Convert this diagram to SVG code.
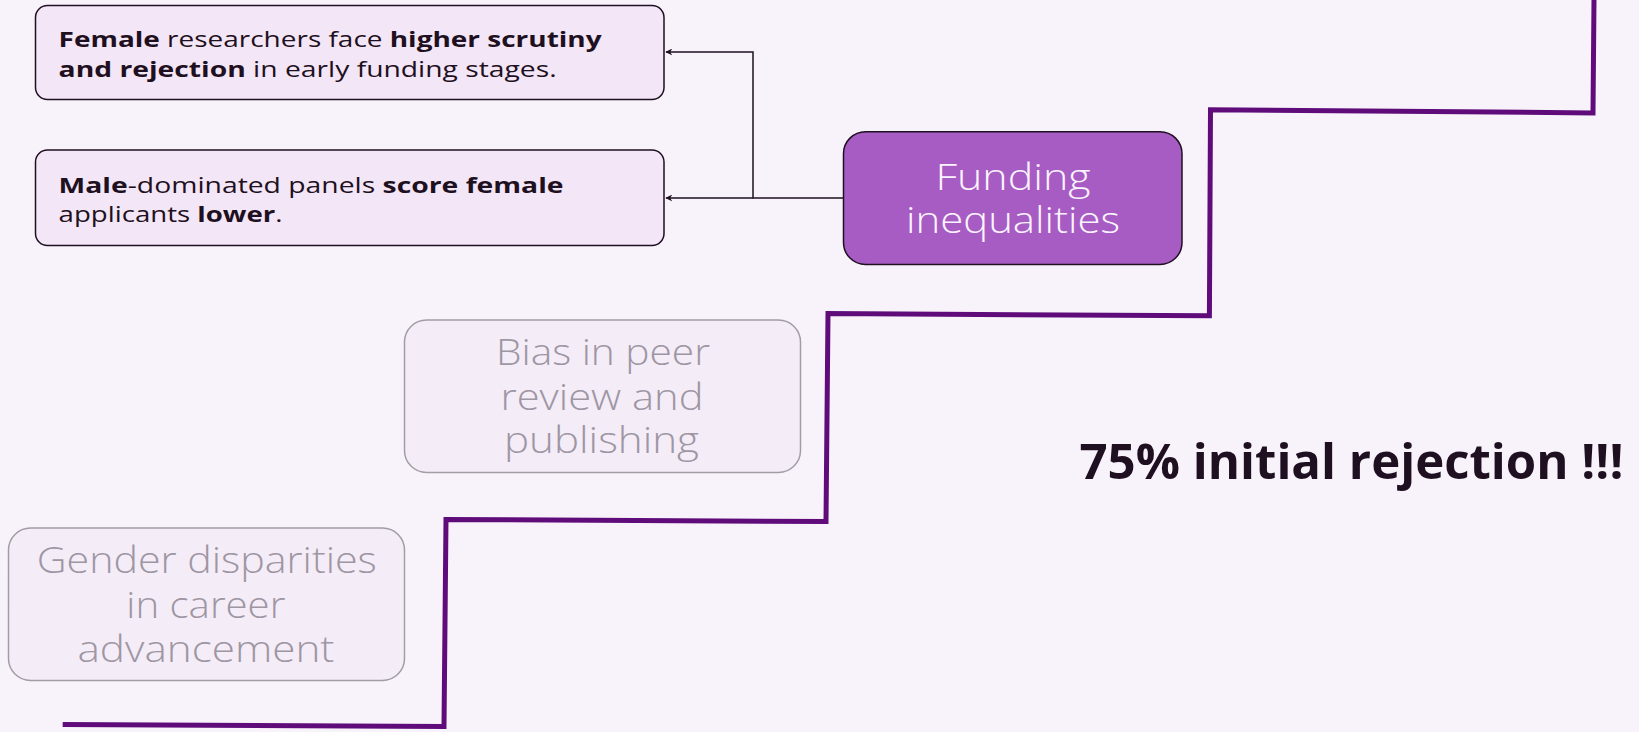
<svg xmlns="http://www.w3.org/2000/svg" width="1639" height="732" viewBox="0 0 1639 732">
<style>
.bg{fill:#f8f3fa}
.note{fill:#f3e6f6;stroke:#1e1020;stroke-width:1.5}
.ghost{fill:#f4ecf7;stroke:#a29ca6;stroke-width:1.5}
.main{fill:#a75cc4;stroke:#1e1020;stroke-width:1.5}
.nt{font-family:"Open Sans","Liberation Sans",sans-serif;font-size:22px;fill:#1e1020;font-weight:400}
.nt tspan.b{font-weight:700}
.gt{font-family:"Open Sans","Liberation Sans",sans-serif;font-size:36px;font-weight:300;fill:#9e96a3;text-anchor:middle}
.mt{font-family:"Open Sans","Liberation Sans",sans-serif;font-size:36px;font-weight:300;fill:#fbf4fd;text-anchor:middle}
.big{font-family:"Open Sans","Liberation Sans",sans-serif;font-size:49px;font-weight:700;fill:#1e1020}
.conn{fill:none;stroke:#1e1020;stroke-width:1.5}
.stair{fill:none;stroke:#5f0c7a;stroke-width:5}
</style>
<defs>
<marker id="arr" viewBox="0 0 10 10" refX="9" refY="5" markerWidth="7" markerHeight="7" markerUnits="userSpaceOnUse" orient="auto">
<path d="M0,0 L10,5 L0,10 L3,5 Z" fill="#1e1020"/>
</marker>
</defs>
<rect class="bg" x="0" y="0" width="1639" height="732"/>
<g id="stairs">
<polyline class="stair" points="62.7,724.4 444,726.5 446,519.5 826,521.6 828,313.6 1209.4,315.7 1210.5,109.8 1593,112.9 1594,0"/>
</g>
<g id="connectors">
<path class="conn" d="M843,198 L753,198 L753,52 L666,52" marker-end="url(#arr)"/>
<path class="conn" d="M753,198 L666,198" marker-end="url(#arr)"/>
</g>
<g id="note-female">
<rect class="note" x="35.5" y="5.5" width="628.5" height="94" rx="12"/>
<text class="nt" x="58.6" y="46.7" textLength="543" lengthAdjust="spacingAndGlyphs"><tspan class="b">Female</tspan> researchers face <tspan class="b">higher scrutiny</tspan></text>
<text class="nt" x="58.6" y="76.7" textLength="498" lengthAdjust="spacingAndGlyphs"><tspan class="b">and rejection</tspan> in early funding stages.</text>
</g>
<g id="note-male">
<rect class="note" x="35.5" y="150" width="628.5" height="95.5" rx="12"/>
<text class="nt" x="58.6" y="192.7" textLength="505" lengthAdjust="spacingAndGlyphs"><tspan class="b">Male</tspan>-dominated panels <tspan class="b">score female</tspan></text>
<text class="nt" x="58.6" y="221.7" textLength="224" lengthAdjust="spacingAndGlyphs">applicants <tspan class="b">lower</tspan>.</text>
</g>
<g id="funding">
<rect class="main" x="843.5" y="131.7" width="338.5" height="132.8" rx="22"/>
<text class="mt" x="1013" y="190" textLength="155" lengthAdjust="spacingAndGlyphs">Funding</text>
<text class="mt" x="1013" y="233" textLength="214" lengthAdjust="spacingAndGlyphs">inequalities</text>
</g>
<g id="bias">
<rect class="ghost" x="404.5" y="320" width="396" height="152.5" rx="22"/>
<text class="gt" x="603" y="365" textLength="214" lengthAdjust="spacingAndGlyphs">Bias in peer</text>
<text class="gt" x="602" y="410" textLength="203" lengthAdjust="spacingAndGlyphs">review and</text>
<text class="gt" x="601.5" y="453" textLength="195" lengthAdjust="spacingAndGlyphs">publishing</text>
</g>
<g id="gender">
<rect class="ghost" x="8.5" y="528" width="396" height="152.5" rx="22"/>
<text class="gt" x="206.8" y="573" textLength="340" lengthAdjust="spacingAndGlyphs">Gender disparities</text>
<text class="gt" x="205.8" y="618" textLength="159" lengthAdjust="spacingAndGlyphs">in career</text>
<text class="gt" x="206" y="662" textLength="257" lengthAdjust="spacingAndGlyphs">advancement</text>
</g>
<g id="headline">
<text class="big" x="1079.5" y="479.3" textLength="544" lengthAdjust="spacingAndGlyphs">75% initial rejection !!!</text>
</g>
</svg>
